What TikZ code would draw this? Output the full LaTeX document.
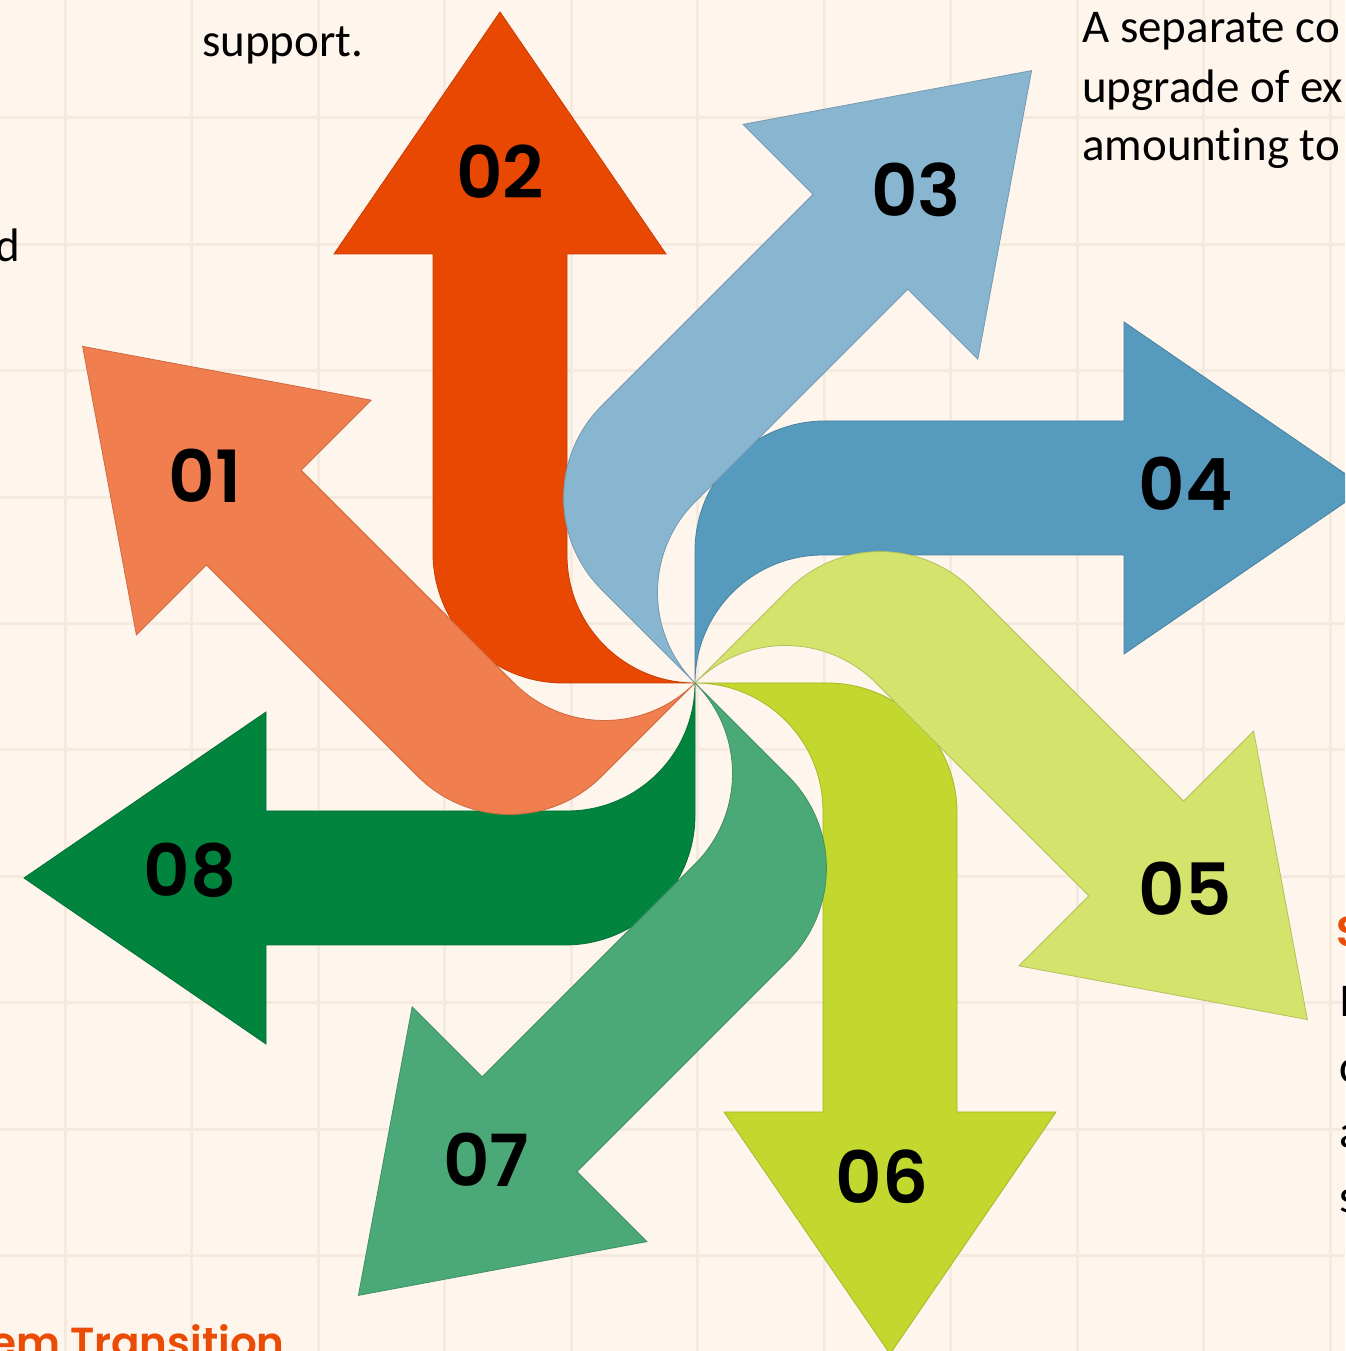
\documentclass[tikz,border=0pt]{standalone}
\usepackage{fontspec}
\setmainfont{Carlito}[Ligatures={NoCommon}]
\newfontfamily\numfont{Poppins}[BoldFont={Poppins SemiBold}]
\definecolor{bgc}{HTML}{FEF5EC}
\definecolor{gridc}{HTML}{F6EADF}
\definecolor{cA}{HTML}{F07E4E}
\definecolor{cB}{HTML}{E94803}
\definecolor{cC}{HTML}{88B5CF}
\definecolor{cD}{HTML}{569ABD}
\definecolor{cE}{HTML}{D4E36B}
\definecolor{cF}{HTML}{C2D82F}
\definecolor{cG}{HTML}{4BA978}
\definecolor{cH}{HTML}{01853E}
\definecolor{hot}{HTML}{EA4B05}
\newcommand\pinarrow[2]{%
  \filldraw[fill=#2, draw=#2!85!black, line width=0.8pt, shift={(695,668)}, rotate=#1]
  (0,0) arc[start angle=-90, end angle=-180, radius=128pt]
  -- (-128,429) -- (-29,429) -- (-195,671) -- (-361,429) -- (-262,429)
  -- (-262,130) arc[start angle=180, end angle=270, radius=130pt] -- cycle;}
\tikzset{
  lbl/.style={font=\numfont\bfseries\fontsize{72}{72}\selectfont, inner sep=0pt},
  body/.style={font=\fontsize{47}{57}\selectfont, inner sep=0pt, anchor=base west},
  head/.style={font=\numfont\bfseries\fontsize{42}{42}\selectfont, text=hot, inner sep=0pt, anchor=base west},
  gridline/.style={draw=gridc, line width=3pt}
}
\begin{document}
\begin{tikzpicture}[x=1pt, y=1pt]
\useasboundingbox (0,0) rectangle (1345,1351);
\clip (0,0) rectangle (1345,1351);
\fill[bgc] (0,0) rectangle (1345,1351);
\foreach \k in {0,...,10} \draw[gridline] ({65+126.5*\k},0) -- ++(0,1351);
\foreach \k in {0,...,9} \draw[gridline] (0,{1351-118-126.4*\k}) -- ++(1345,0);
% even arrows first
\pinarrow{0}{cB}
\pinarrow{-90}{cD}
\pinarrow{180}{cF}
\pinarrow{90}{cH}
% odd arrows on top
\pinarrow{45}{cA}
\pinarrow{-45}{cC}
\pinarrow{-135}{cE}
\pinarrow{135}{cG}
% labels
\node[lbl] (n01) at (205,875) {01};
\node[lbl] (n02) at (500,1179) {02};
\node[lbl] (n03) at (916,1161) {03};
\node[lbl] (n04) at (1186,867) {04};
\node[lbl] (n05) at (1185,462) {05};
\node[lbl] (n06) at (882,174) {06};
\node[lbl] (n07) at (486,191) {07};
\node[lbl] (n08) at (190,481) {08};
% surrounding text fragments
\node[body] (t1) at (202,1294) {support.};
\node[body, anchor=base east] (t2) at (20,1089) {d};
\node[body] (t3) at (1082,1308) {A separate co};
\node[body] (t4) at (1082,1248) {upgrade of ex};
\node[body] (t5) at (1082,1190) {amounting to};
\node[head] (t6) at (1336,404) {S};
\node[body] (t7) at (1339,334) {I};
\node[body] (t8) at (1339,268) {c};
\node[body] (t9) at (1339,203) {a};
\node[body] (t10) at (1339,138) {s};
\node[head] (t11) at (-10,-6) {em Transition};
\end{tikzpicture}
\end{document}
